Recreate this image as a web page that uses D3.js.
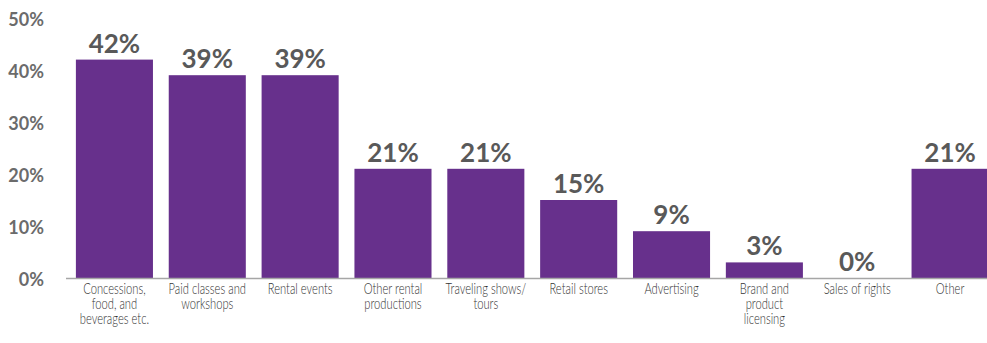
<!DOCTYPE html>
<html>
<head>
<meta charset="utf-8">
<script src="https://cdn.jsdelivr.net/npm/d3@7"></script>
<style>
  body { margin: 0; background: #fff; }
  svg { display: block; }
  .tick-label { font-family: Lato, "Open Sans", sans-serif; font-weight: 700; font-size: 18px; fill: #6b6b6b; }
  .value { font-family: Lato, "Open Sans", sans-serif; font-weight: 700; font-size: 26px; fill: #595959; }
  .cat { font-family: Lato, "Open Sans", sans-serif; font-weight: 300; font-size: 16px; fill: #333; }
</style>
</head>
<body>
<svg width="987" height="343"></svg>
<script>
const w = 987, h = 343;

const categories = [
  ["Concessions,", "food, and", "beverages etc."],
  ["Paid classes and", "workshops"],
  ["Rental events"],
  ["Other rental", "productions"],
  ["Traveling shows/", "tours"],
  ["Retail stores"],
  ["Advertising"],
  ["Brand and", "product", "licensing"],
  ["Sales of rights"],
  ["Other"]
];
const values = [42, 39, 39, 21, 21, 15, 9, 3, 0, 21];
const ticks = [0, 10, 20, 30, 40, 50];

const svg = d3.select("svg");

const x = d3.scaleBand()
    .domain(d3.range(categories.length))
    .range([68, 996.5])
    .paddingInner(0.17)
    .paddingOuter(0.085);
const y = d3.scaleLinear().domain([0, 50]).range([278, 18]);

// y labels only, no axis line
svg.append("g").selectAll("text")
    .data(ticks)
    .join("text").attr("class", "tick-label")
    .attr("x", 44)
    .attr("y", d => y(d) + 2)
    .attr("dy", "0.35em")
    .attr("text-anchor", "end")
    .text(d => d + "%");

svg.append("g").selectAll("rect")
    .data(values)
    .join("rect")
    .attr("x", (d, i) => x(i))
    .attr("y", d => y(d))
    .attr("width", x.bandwidth())
    .attr("height", d => y(0) - y(d))
    .attr("fill", "#67308c");

// baseline
svg.append("line")
    .attr("x1", 66).attr("x2", w)
    .attr("y1", y(0) + 0.5).attr("y2", y(0) + 0.5)
    .attr("stroke", "#a6a6a6").attr("stroke-width", 1.6);

svg.append("g").selectAll("text")
    .data(values)
    .join("text").attr("class", "value")
    .attr("x", (d, i) => x(i) + x.bandwidth() / 2)
    .attr("y", d => y(d) - 7)
    .attr("text-anchor", "middle")
    .text(d => d + "%");

// condensed look: squeeze each label line horizontally
const lines = categories.flatMap((c, i) => c.map((t, j) => ({t, i, j})));
svg.append("g").selectAll("text")
    .data(lines)
    .join("text").attr("class", "cat")
    .attr("text-anchor", "middle")
    .attr("transform", d => `translate(${[x(d.i) + x.bandwidth() / 2, 294 + d.j * 15]}) scale(0.7,1)`)
    .text(d => d.t);
</script>
</body>
</html>
